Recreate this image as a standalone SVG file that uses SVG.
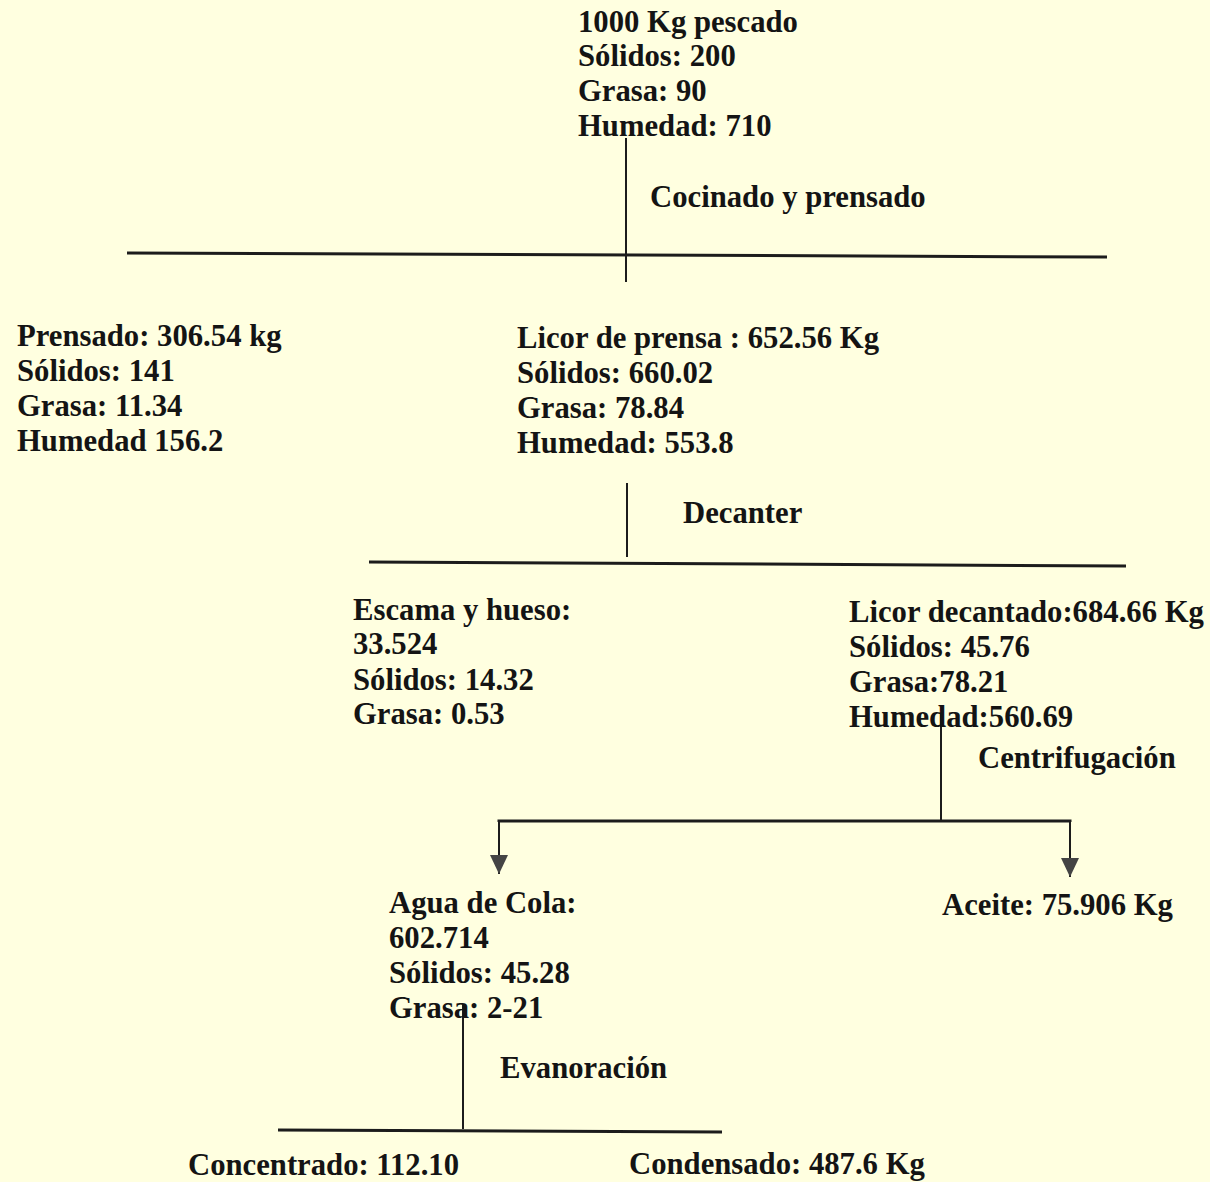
<svg xmlns="http://www.w3.org/2000/svg" width="1210" height="1182" viewBox="0 0 1210 1182">
<defs>
<style>
text{font-family:"Liberation Serif","Times New Roman",serif;font-weight:bold;font-size:30.7px;fill:#141414}
.ln{stroke:#1c1c1c;stroke-width:2;fill:none}
.hl{stroke:#1c1c1c;stroke-width:3;fill:none}
</style>
<marker id="arr" markerUnits="userSpaceOnUse" markerWidth="20" markerHeight="20" refX="19" refY="9" orient="auto" viewBox="0 0 20 18">
<path d="M0,0 L19,9 L0,18 z" fill="#444"/>
</marker>
</defs>
<rect width="1210" height="1182" fill="#FFFFE0"/>
<g id="connectors">
<line class="ln" x1="626" y1="138" x2="626" y2="282"/>
<line class="hl" x1="127" y1="253" x2="1107" y2="257"/>
<line class="ln" x1="627" y1="483" x2="627" y2="557"/>
<line class="hl" x1="369" y1="562" x2="1126" y2="566"/>
<line class="ln" x1="941" y1="713" x2="941" y2="821"/>
<polyline class="hl" points="499,822 499,821 1070,821 1070,822"/>
<line class="ln" x1="499" y1="820" x2="499" y2="874" marker-end="url(#arr)"/>
<line class="ln" x1="1070" y1="820" x2="1070" y2="877" marker-end="url(#arr)"/>
<line class="ln" x1="463" y1="1005" x2="463" y2="1129"/>
<line class="hl" x1="278" y1="1130" x2="722" y2="1132"/>
</g>
<g id="pescado">
<text x="578" y="32">1000 Kg pescado</text>
<text x="578" y="66">Sólidos: 200</text>
<text x="578" y="101">Grasa: 90</text>
<text x="578" y="136">Humedad: 710</text>
</g>
<g id="cocinado"><text x="650" y="207">Cocinado y prensado</text></g>
<g id="prensado">
<text x="17" y="346">Prensado: 306.54 kg</text>
<text x="17" y="381">Sólidos: 141</text>
<text x="17" y="416">Grasa: 11.34</text>
<text x="17" y="451">Humedad 156.2</text>
</g>
<g id="licor-prensa">
<text x="517" y="348">Licor de prensa : 652.56 Kg</text>
<text x="517" y="383">Sólidos: 660.02</text>
<text x="517" y="418">Grasa: 78.84</text>
<text x="517" y="453">Humedad: 553.8</text>
</g>
<g id="decanter"><text x="683" y="523">Decanter</text></g>
<g id="escama">
<text x="353" y="620">Escama y hueso:</text>
<text x="353" y="654">33.524</text>
<text x="353" y="690">Sólidos: 14.32</text>
<text x="353" y="724">Grasa: 0.53</text>
</g>
<g id="licor-decantado">
<text x="849" y="622">Licor decantado:684.66 Kg</text>
<text x="849" y="657">Sólidos: 45.76</text>
<text x="849" y="692">Grasa:78.21</text>
<text x="849" y="727">Humedad:560.69</text>
</g>
<g id="centrifugacion"><text x="978" y="768">Centrifugación</text></g>
<g id="agua-cola">
<text x="389" y="913">Agua de Cola:</text>
<text x="389" y="948">602.714</text>
<text x="389" y="983">Sólidos: 45.28</text>
<text x="389" y="1018">Grasa: 2-21</text>
</g>
<g id="aceite"><text x="942" y="915">Aceite: 75.906 Kg</text></g>
<g id="evaporacion"><text x="500" y="1078">Evanoración</text></g>
<g id="concentrado"><text x="188" y="1175">Concentrado: 112.10</text></g>
<g id="condensado"><text x="629" y="1174">Condensado: 487.6 Kg</text></g>
</svg>
